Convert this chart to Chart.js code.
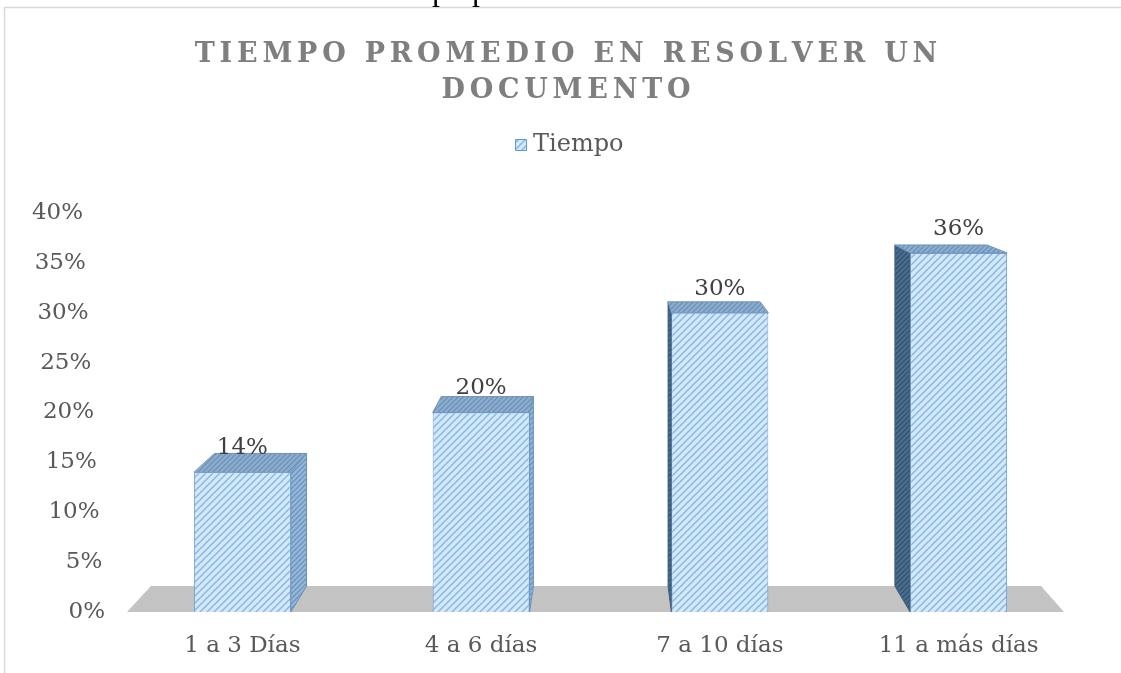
<!DOCTYPE html>
<html>
<head>
<meta charset="utf-8">
<script src="https://cdn.jsdelivr.net/npm/chart.js@4.4.1/dist/chart.umd.min.js"></script>
<style>
  html, body { margin: 0; padding: 0; background: #ffffff; }
  #wrap { width: 1121px; height: 673px; position: relative; overflow: hidden; }
</style>
</head>
<body>
<div id="wrap"><canvas id="c" width="1121" height="673"></canvas></div>
<script>
// ---- data ----
const categories = ['1 a 3 Días', '4 a 6 días', '7 a 10 días', '11 a más días'];
const tiempo = [0.14, 0.20, 0.30, 0.36];
const yTicks = [0, 0.05, 0.10, 0.15, 0.20, 0.25, 0.30, 0.35, 0.40];
const seriesName = 'Tiempo';
const titleLines = ['TIEMPO PROMEDIO EN RESOLVER UN', 'DOCUMENTO'];
const captionText = 'Gráfico 10: Tiempo promedio en resolver un documento';

const SERIF = '"DejaVu Serif", serif';
const TEXT_GRAY = '#595959';

const canvas = document.getElementById('c');
const ctx = canvas.getContext('2d');

// diagonal hatch fill
function hatch(bg, fg, size, lw) {
  const c = document.createElement('canvas');
  c.width = size; c.height = size;
  const g = c.getContext('2d');
  g.fillStyle = bg; g.fillRect(0, 0, size, size);
  g.strokeStyle = fg; g.lineWidth = lw;
  g.beginPath();
  g.moveTo(-1, size + 1); g.lineTo(size + 1, -1);
  g.moveTo(-1, 1); g.lineTo(1, -1);
  g.moveTo(size - 1, size + 1); g.lineTo(size + 1, size - 1);
  g.stroke();
  return ctx.createPattern(c, 'repeat');
}

const frontFill = hatch('#d3e8fa', '#86b6e0', 7, 1.4);
const sideLight = hatch('#93b6d9', '#6890ba', 5, 1.2);
const sideDark = hatch('#4a6c8e', '#33506b', 5, 1.2);
const topFill = hatch('#8cadcd', '#6a8eb3', 5, 1.2);

// perspective depth helper (vanishing point above the plot)
const VPX = 605, VPY = 94, DEPTH = 0.05;
function back(x, y) {
  return [x + (VPX - x) * DEPTH, y + (VPY - y) * DEPTH];
}

function poly(c, pts, fill, stroke) {
  c.beginPath();
  c.moveTo(pts[0][0], pts[0][1]);
  for (let i = 1; i < pts.length; i++) c.lineTo(pts[i][0], pts[i][1]);
  c.closePath();
  c.fillStyle = fill; c.fill();
  if (stroke) { c.strokeStyle = stroke; c.lineWidth = 1; c.stroke(); }
}

const decor = {
  id: 'decor',
  beforeDraw(chart) {
    const c = chart.ctx;
    c.save();
    // outer frame
    c.strokeStyle = '#d9d9d9'; c.lineWidth = 1.5;
    c.beginPath();
    c.moveTo(4.5, 673); c.lineTo(4.5, 7.5); c.lineTo(1121, 7.5);
    c.stroke();
    // caption line above the frame
    c.font = '32px "Liberation Serif", serif';
    c.fillStyle = '#000000';
    c.textBaseline = 'alphabetic';
    c.textAlign = 'left';
    const pre = c.measureText('Gráfico 10: Tiem').width;
    c.fillText(captionText, 432 - pre, -0.5);
    // title, letter-spaced
    c.fillStyle = '#7f7f7f';
    c.font = 'bold 27px ' + SERIF;
    const spacing = 4.8;
    const baselines = [62, 98];
    titleLines.forEach((line, i) => {
      const chars = Array.from(line);
      const widths = chars.map(ch => c.measureText(ch).width);
      const total = widths.reduce((a, b) => a + b, 0) + spacing * (chars.length - 1);
      let x = 566 - total / 2;
      chars.forEach((ch, k) => { c.fillText(ch, x, baselines[i]); x += widths[k] + spacing; });
    });
    // legend
    const ds = chart.data.datasets[0];
    c.fillStyle = '#ffffff';
    c.fillRect(515, 139, 12, 12);
    poly(c, [[515.5, 139.5], [526.5, 139.5], [526.5, 150.5], [515.5, 150.5]], frontFill, '#5b9bd5');
    c.fillStyle = TEXT_GRAY;
    c.font = '24px ' + SERIF;
    c.textBaseline = 'middle';
    c.fillText(ds.label, 533, 145);
    c.restore();
  },
  beforeDatasetsDraw(chart) {
    const c = chart.ctx;
    const area = chart.chartArea;
    const yb = chart.scales.y.getPixelForValue(0);
    c.save();
    // floor
    const L = area.left + 4, R = area.right - 14;
    poly(c, [[L, yb], [R, yb], back(R, yb), back(L, yb)], '#c3c3c3');
    // sides and tops of the bars
    const meta = chart.getDatasetMeta(0);
    meta.data.forEach((bar) => {
      const p = bar.getProps(['x', 'y', 'base', 'width'], true);
      const xl = p.x - p.width / 2, xr = p.x + p.width / 2, yt = p.y, ybase = p.base;
      if (p.x < VPX) {
        poly(c, [[xr, yt], back(xr, yt), back(xr, ybase), [xr, ybase]], sideLight, '#6890ba');
      } else {
        poly(c, [[xl, yt], back(xl, yt), back(xl, ybase), [xl, ybase]], sideDark, '#3d5c7a');
      }
      poly(c, [[xl, yt], [xr, yt], back(xr, yt), back(xl, yt)], topFill, '#6f94ba');
    });
    c.restore();
  },
  afterDatasetsDraw(chart) {
    const c = chart.ctx;
    const ys = chart.scales.y;
    c.save();
    // value axis labels, following the slanted wall edge
    c.font = '23px ' + SERIF;
    c.fillStyle = TEXT_GRAY;
    c.textBaseline = 'middle';
    c.textAlign = 'right';
    const y0 = ys.getPixelForValue(0);
    yTicks.forEach(v => {
      const y = ys.getPixelForValue(v);
      const xr = 105 - (y0 - y) * 22 / 399;
      c.fillText(Math.round(v * 100) + '%', xr, y);
    });
    // data labels
    c.textAlign = 'center';
    c.fillStyle = '#404040';
    const meta = chart.getDatasetMeta(0);
    meta.data.forEach((bar, i) => {
      const p = bar.getProps(['x', 'y'], true);
      const v = chart.data.datasets[0].data[i];
      c.fillText(Math.round(v * 100) + '%', p.x, p.y - 24);
    });
    c.restore();
  }
};

new Chart(canvas, {
  type: 'bar',
  data: {
    labels: categories,
    datasets: [{
      label: seriesName,
      data: tiempo,
      backgroundColor: frontFill,
      borderColor: '#6f9fd2',
      borderWidth: 1,
      barPercentage: 0.406,
      categoryPercentage: 1.0
    }]
  },
  options: {
    responsive: false,
    animation: false,
    devicePixelRatio: 1,
    layout: { padding: { left: 123, right: 43, top: 213, bottom: 21 } },
    plugins: {
      legend: { display: false },
      title: { display: false },
      tooltip: { enabled: false }
    },
    scales: {
      x: {
        grid: { display: false },
        border: { display: false },
        ticks: {
          color: TEXT_GRAY,
          font: { family: SERIF, size: 23 },
          padding: 12,
          maxRotation: 0
        },
        afterFit(scale) { scale.height = 40; }
      },
      y: {
        display: false,
        min: 0,
        max: 0.4
      }
    }
  },
  plugins: [decor]
});
</script>
</body>
</html>
